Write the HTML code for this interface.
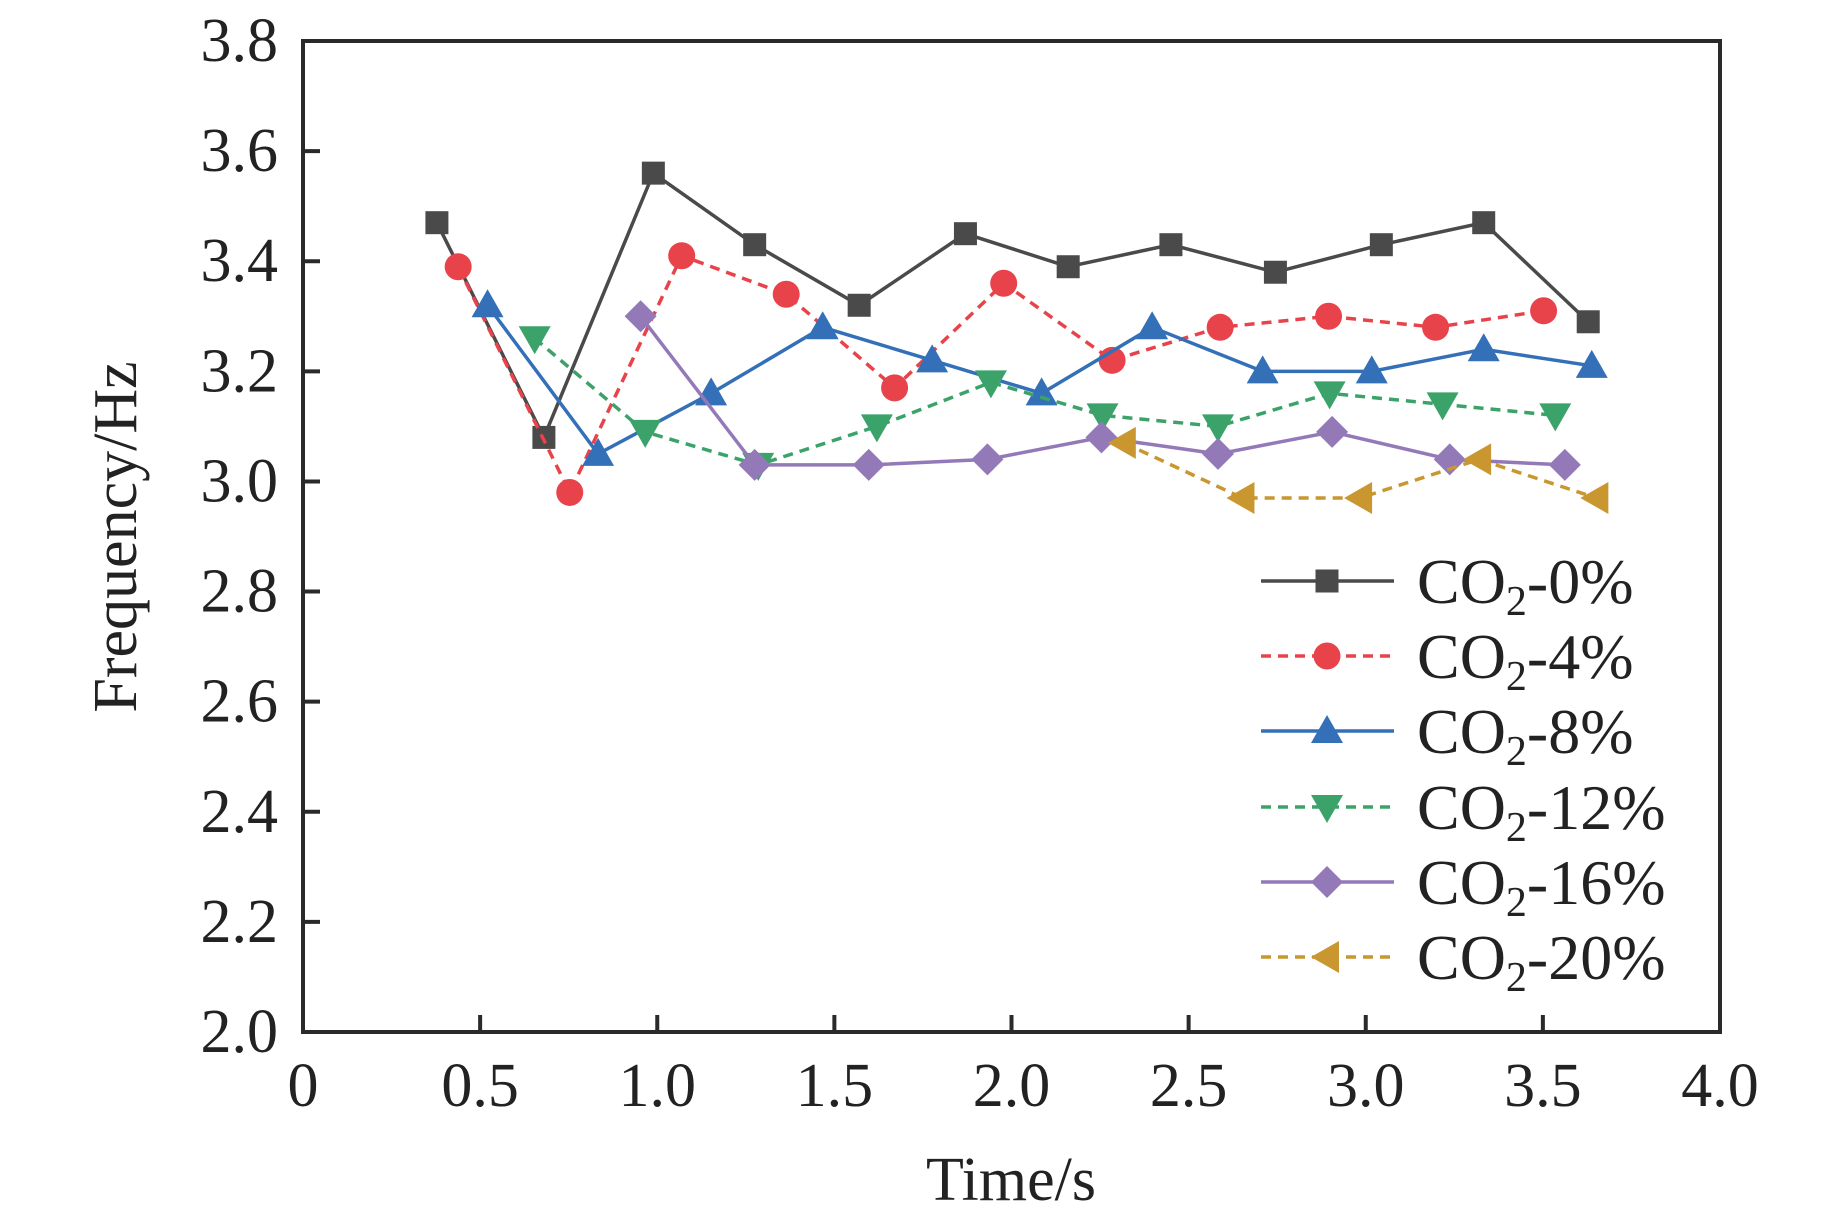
<!DOCTYPE html>
<html><head><meta charset="utf-8"><style>
html,body{margin:0;padding:0;background:#fff;}
svg{display:block;font-family:"Liberation Serif",serif;}
</style></head><body>
<svg id="chart" width="1843" height="1217" viewBox="0 0 1843 1217" xmlns="http://www.w3.org/2000/svg">
<g id="marks"></g>
<g id="axes"></g>
<g id="legend"></g>
</svg>
<script>
const xTicks=[0,0.5,1.0,1.5,2.0,2.5,3.0,3.5,4.0];
const xTickLabels=["0","0.5","1.0","1.5","2.0","2.5","3.0","3.5","4.0"];
const yTicks=[2.0,2.2,2.4,2.6,2.8,3.0,3.2,3.4,3.6,3.8];
const seriesNames=["0%","4%","8%","12%","16%","20%"];
const x0=[0.378,0.68,0.989,1.275,1.57,1.87,2.16,2.45,2.745,3.044,3.333,3.628];
const y0=[3.47,3.08,3.56,3.43,3.32,3.45,3.39,3.43,3.38,3.43,3.47,3.29];
const x4=[0.438,0.753,1.069,1.364,1.67,1.978,2.284,2.589,2.895,3.197,3.502];
const y4=[3.39,2.98,3.41,3.34,3.17,3.36,3.22,3.28,3.30,3.28,3.31];
const x8=[0.521,0.833,1.152,1.467,1.776,2.085,2.397,2.709,3.017,3.333,3.638];
const y8=[3.32,3.05,3.16,3.28,3.22,3.16,3.28,3.20,3.20,3.24,3.21];
const x12=[0.654,0.966,1.285,1.62,1.942,2.257,2.583,2.898,3.217,3.535];
const y12=[3.26,3.09,3.03,3.10,3.18,3.12,3.10,3.16,3.14,3.12];
const x16=[0.953,1.275,1.597,1.932,2.254,2.583,2.905,3.237,3.562];
const y16=[3.30,3.03,3.03,3.04,3.08,3.05,3.09,3.04,3.03];
const x20=[2.317,2.652,2.984,3.32,3.651];
const y20=[3.07,2.97,2.97,3.04,2.97];

const L=303,R=1720,T=41,B=1032;
const sx=v=>L+(v-0)/4*(R-L);
const sy=v=>B-(v-2.0)/1.8*(B-T);
const NS="http://www.w3.org/2000/svg";
function mk(tag,attrs,parent){const e=document.createElementNS(NS,tag);for(const k in attrs)e.setAttribute(k,attrs[k]);parent.appendChild(e);return e;}
const marks=document.getElementById('marks'),axes=document.getElementById('axes'),legend=document.getElementById('legend');
const series=[
 {xs:x0,ys:y0,c:"#4a4a4a",dash:"",m:"square"},
 {xs:x4,ys:y4,c:"#e8434b",dash:"10,7",m:"circle"},
 {xs:x8,ys:y8,c:"#3470b8",dash:"",m:"up"},
 {xs:x12,ys:y12,c:"#3ba26a",dash:"10,7",m:"down"},
 {xs:x16,ys:y16,c:"#9479b8",dash:"",m:"diamond"},
 {xs:x20,ys:y20,c:"#c9962f",dash:"10,7",m:"left"}
];
function marker(type,x,y,c,parent){
 const s=12.5;let e;
 if(type==="square")e=mk('rect',{x:x-s+1,y:y-s+1,width:2*s-2,height:2*s-2,fill:c},parent);
 else if(type==="circle")e=mk('circle',{cx:x,cy:y,r:s+1,fill:c},parent);
 else{let p;const k=s+3.5;
  if(type==="up")p=[[x,y-k],[x+k,y+k*0.75],[x-k,y+k*0.75]];
  else if(type==="down")p=[[x,y+k],[x+k,y-k*0.75],[x-k,y-k*0.75]];
  else if(type==="left")p=[[x-k,y],[x+k*0.75,y-k],[x+k*0.75,y+k]];
  else p=[[x,y-k],[x+k,y],[x,y+k],[x-k,y]];
  e=mk('polygon',{points:p.map(q=>q.join(',')).join(' '),fill:c},parent);}
 return e;
}
series.forEach((s,i)=>{
 const g=mk('g',{},marks);
 
 
 const pts=s.xs.map((x,j)=>sx(x)+','+sy(s.ys[j])).join(' ');
 const pl=mk('polyline',{points:pts,fill:'none',stroke:s.c,'stroke-width':3.5,'stroke-dasharray':s.dash},g);
 
 
 s.xs.forEach((x,j)=>{const m=marker(s.m,sx(x),sy(s.ys[j]),s.c,g);
  
  });
});
const fr=mk('rect',{x:L,y:T,width:R-L,height:B-T,fill:'none',stroke:'#2a2a2a','stroke-width':4},axes);


xTicks.forEach((v,i)=>{
 mk('line',{x1:sx(v),x2:sx(v),y1:B,y2:B-17,stroke:'#2a2a2a','stroke-width':4},axes);
 const t=mk('text',{x:sx(v),y:1106,'text-anchor':'middle','font-size':62,fill:'#222'},axes);
 t.textContent=xTickLabels[i];
 
 
});
yTicks.forEach(v=>{
 mk('line',{x1:L,x2:L+17,y1:sy(v),y2:sy(v),stroke:'#2a2a2a','stroke-width':4},axes);
 const t=mk('text',{x:278,y:sy(v)+20,'text-anchor':'end','font-size':62,fill:'#222'},axes);
 t.textContent=v.toFixed(1);
 
 
});
const xt=mk('text',{x:1011,y:1200,'text-anchor':'middle','font-size':62,fill:'#222'},axes);
xt.textContent='Time/s';


const yt=mk('text',{x:0,y:0,'text-anchor':'middle','font-size':62,fill:'#222',transform:'translate(136,537) rotate(-90)'},axes);
yt.textContent='Frequency/Hz';


const ly=[581,656,731,807,882,957];
series.forEach((s,i)=>{
 const g=mk('g',{},legend);
 
 
 mk('line',{x1:1261,x2:1394,y1:ly[i],y2:ly[i],stroke:s.c,'stroke-width':3.5,'stroke-dasharray':s.dash},g);
 marker(s.m,1327,ly[i],s.c,g);
 const t=mk('text',{x:1417,y:ly[i]+22,'font-size':64,fill:'#222'},g);
 t.innerHTML='CO<tspan font-size="42" dy="12">2</tspan><tspan dy="-12">-'+seriesNames[i]+'</tspan>';
});
</script>
</body></html>
